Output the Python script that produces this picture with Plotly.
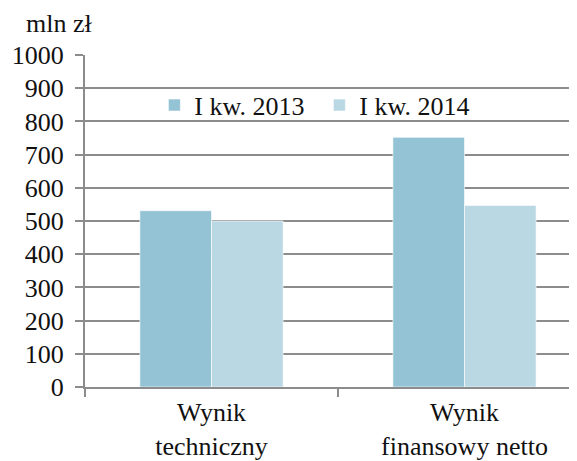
import plotly.graph_objects as go

categories = ["Wynik<br>techniczny", "Wynik<br>finansowy netto"]
series_names = ["I kw. 2013", "I kw. 2014"]
values_2013 = [531, 752]
values_2014 = [500, 547]
y_ticks = [0, 100, 200, 300, 400, 500, 600, 700, 800, 900, 1000]
unit_label = "mln zł"

colors = ["#93C3D4", "#BAD8E4"]
FONT = "Liberation Serif"

fig = go.Figure()
for name, vals, col in zip(series_names, [values_2013, values_2014], colors):
    fig.add_trace(go.Bar(
        x=categories, y=vals, name=name,
        marker=dict(color=col, line=dict(color="rgba(255,255,255,0.6)", width=1)),
    ))

fig.update_layout(
    width=569, height=453,
    margin=dict(l=77, r=0, t=47, b=74.3),
    paper_bgcolor="white", plot_bgcolor="white",
    font=dict(family=FONT, size=26, color="#111111"),
    barmode="group", bargap=0.434, bargroupgap=0,
    showlegend=True,
    legend=dict(
        orientation="h", x=0.141, y=0.849, xanchor="left", yanchor="middle",
        bgcolor="rgba(0,0,0,0)", font=dict(family=FONT, size=26),
        traceorder="normal", itemwidth=30, entrywidth=120,
    ),
    xaxis=dict(
        type="category", range=[-0.5, 1.4447], automargin=False,
        tickson="boundaries", ticks="outside", ticklen=8, tickcolor="#8c8c8c",
        tickwidth=1.5,
        showline=True, linecolor="#8c8c8c", linewidth=2,
        showgrid=False, tickfont=dict(family=FONT, size=26),
        ticklabelstandoff=1,
    ),
    yaxis=dict(
        range=[0, 1000], tickvals=y_ticks, automargin=False,
        ticks="outside", ticklen=8, tickcolor="#8c8c8c", tickwidth=1.5,
        showline=True, linecolor="#8c8c8c", linewidth=2,
        showgrid=True, gridcolor="#8c8c8c", gridwidth=2,
        zeroline=False, ticklabelstandoff=6,
        tickfont=dict(family=FONT, size=26),
    ),
    annotations=[dict(
        text=unit_label, xref="paper", yref="paper", x=-0.123, y=1.0,
        xanchor="left", yanchor="bottom", yshift=15, showarrow=False,
        font=dict(family=FONT, size=26),
    )],
)

fig.write_html("out.html")
